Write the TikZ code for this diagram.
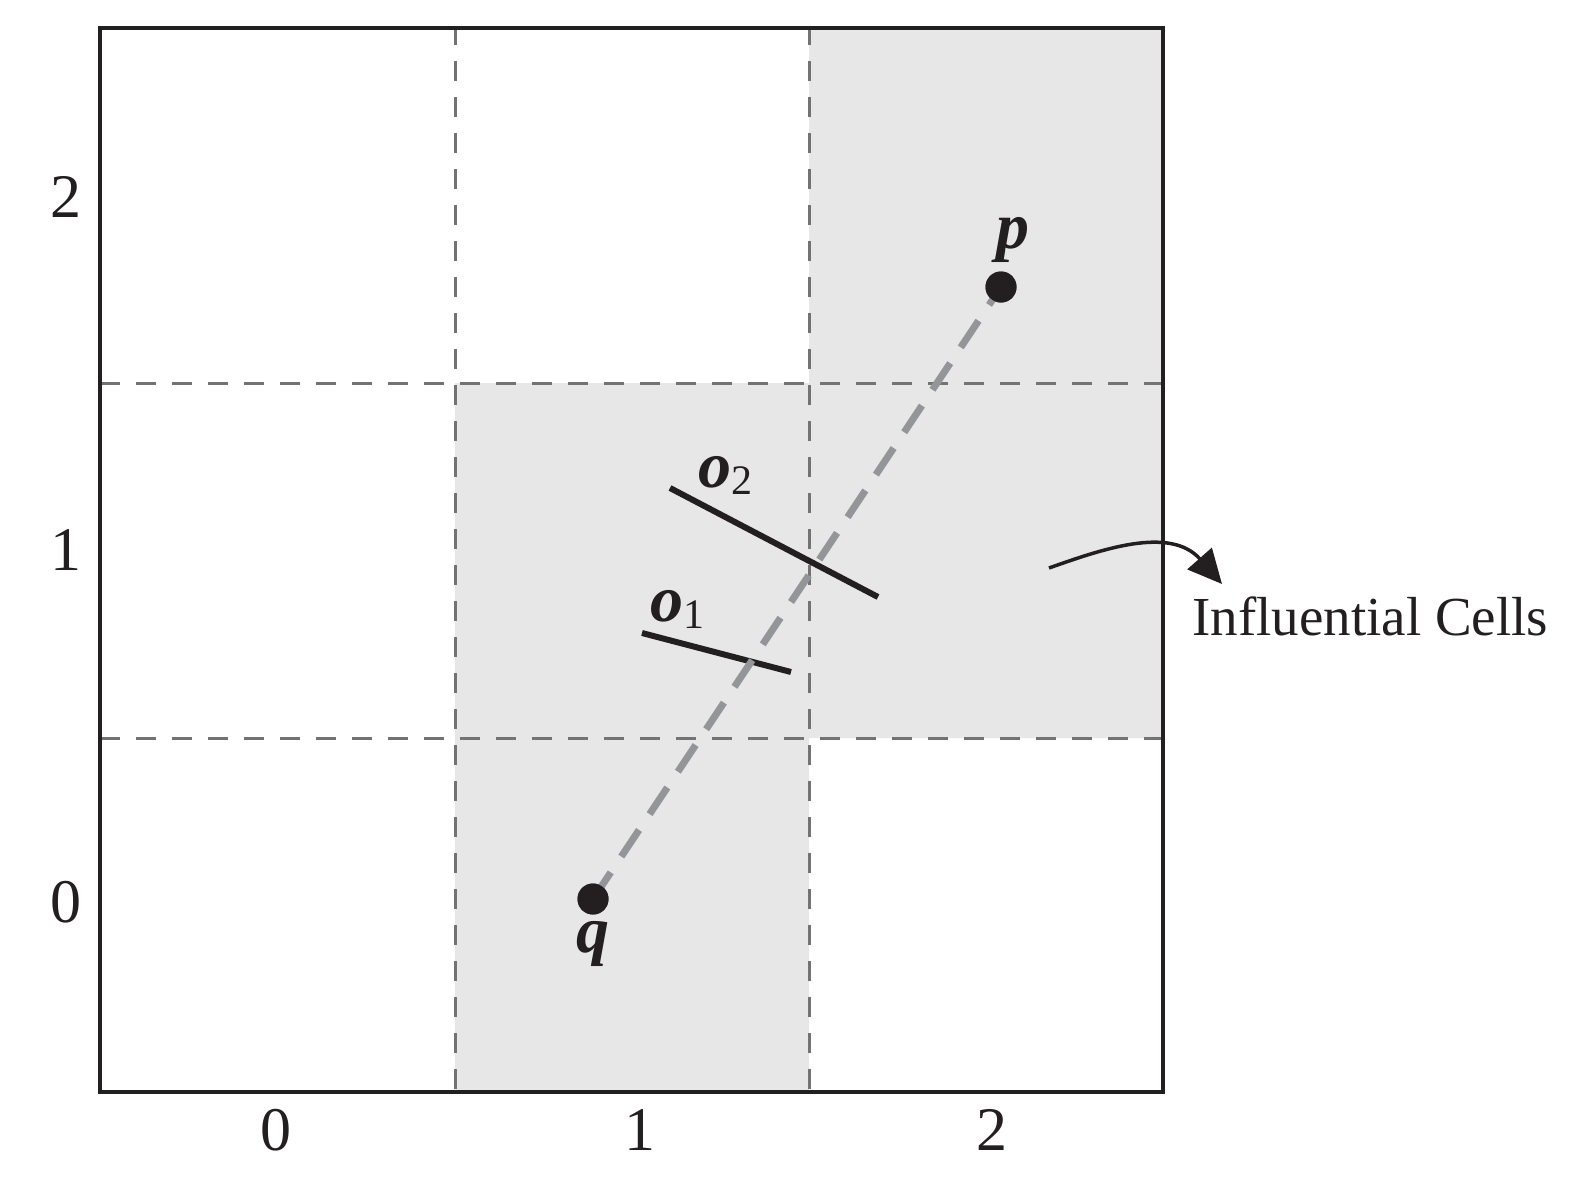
\documentclass[tikz,border=0pt]{standalone}
\usepackage{fontspec}
\setmainfont{Liberation Serif}
\usetikzlibrary{arrows.meta}
\definecolor{ink}{HTML}{231F20}
\definecolor{cellgray}{HTML}{E6E7E6}
\definecolor{gridgray}{HTML}{737373}
\definecolor{raygray}{HTML}{939598}
\newcommand{\bivar}[2]{{\fontsize{66}{66}\selectfont\bfseries\itshape #1}\ifx\relax#2\relax\else\raisebox{-7pt}{\fontsize{42}{42}\selectfont #2}\fi}
\tikzset{
  gridline/.style={draw=gridgray, line width=3pt, dash pattern=on 20pt off 16pt},
  outerbox/.style={draw=ink, line width=3.5pt},
  axislabel/.style={text=ink, inner sep=0pt, font=\fontsize{62}{62}\selectfont},
  dotnode/.style={circle, fill=ink, minimum size=31pt, inner sep=0pt},
  ray/.style={draw=raygray, line width=7pt, dash pattern=on 32pt off 19pt},
  obstacle/.style={draw=ink, line width=6pt},
  varlabel/.style={text=ink, inner sep=0pt},
  plainlabel/.style={text=ink, inner sep=0pt, font=\fontsize{55}{60}\selectfont},
  pointer/.style={draw=ink, line width=3.5pt, -{Triangle[length=34pt,width=32pt]}}
}
\begin{document}
\begin{tikzpicture}[x=1pt,y=-1pt]
\useasboundingbox (0,0) rectangle (1575,1183);
% influential cells
\fill[cellgray] (455,383) -- (809,383) -- (809,28) -- (1163,28) -- (1163,738)
  -- (809,738) -- (809,1092) -- (455,1092) -- cycle;
% grid
\draw[gridline, dash phase=3pt] (455,28) -- (455,1092);
\draw[gridline, dash phase=3pt] (809,28) -- (809,1092);
\draw[gridline] (100,383) -- (1163,383);
\draw[gridline] (100,738) -- (1163,738);
\draw[outerbox] (100,28) rectangle (1163,1092);
% axis labels
\node[axislabel] (y2) at (66,197) {2};
\node[axislabel] (y1) at (66,550) {1};
\node[axislabel] (y0) at (66,902) {0};
\node[axislabel] (x0) at (276,1130) {0};
\node[axislabel] (x1) at (640,1130) {1};
\node[axislabel] (x2) at (992,1130) {2};
% obstacles
\coordinate (o2a) at (670,488);
\coordinate (o2b) at (878,597);
\coordinate (o1a) at (642,633);
\coordinate (o1b) at (791,672);
\draw[obstacle] (o2a) -- (o2b);
\draw[obstacle] (o1a) -- (o1b);
% points and ray
\node[dotnode] (q) at (593,899) {};
\node[dotnode] (p) at (1001,287) {};
\draw[ray] (q.center) -- (p.center);
\node[dotnode] at (q.center) {};
\node[dotnode] at (p.center) {};
% labels
\node[varlabel, anchor=base] (plab) at (1013,248) {\bivar{p}{}};
\node[varlabel, anchor=base] (qlab) at (593,952) {\bivar{q}{}};
\node[varlabel, anchor=base west] (o2lab) at (698,487) {\bivar{o}{2}};
\node[varlabel, anchor=base west] (o1lab) at (650,621) {\bivar{o}{1}};
% pointer
\coordinate (arrS) at (1049,568);
\coordinate (arrE) at (1222,584);
\draw[pointer] (arrS) .. controls (1100,550) and (1170,525) .. (arrE);
\node[plainlabel, anchor=base west] (inf) at (1192,635) {Influential Cells};
\end{tikzpicture}
\end{document}
